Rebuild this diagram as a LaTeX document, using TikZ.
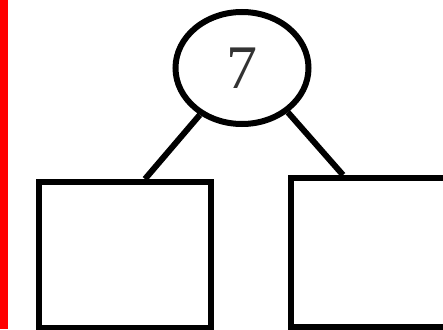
\documentclass[tikz,border=0pt]{standalone}
\usepackage{fontspec}
\setmainfont{Liberation Serif}
\usetikzlibrary{shapes.geometric}
\begin{document}
\begin{tikzpicture}[x=1pt,y=-1pt,
  thick line/.style={line width=6pt},
  circ/.style={ellipse, draw, thick line, minimum width=133pt, minimum height=112pt, inner sep=0pt, text=black!80, font=\fontsize{62}{62}\selectfont},
  boxnode/.style={rectangle, draw, thick line, inner sep=0pt, anchor=north west}]
\useasboundingbox (0,0) rectangle (443,329);
\clip (0,0) rectangle (443,329);
\fill[white] (0,0) rectangle (443,329);
\fill[red] (0,0) rectangle (8,329);
\node[circ] (e) at (242,68) {7};
\node[boxnode, minimum width=172pt, minimum height=146pt] (lb) at (36,179) {};
\node[boxnode, minimum width=200pt, minimum height=149pt] (rb) at (288,175) {};
\coordinate (lt) at (145,179);
\coordinate (rt) at (343,175);
\draw[thick line] (e.228) -- (lt);
\draw[thick line] (e.316) -- (rt);
\end{tikzpicture}
\end{document}
